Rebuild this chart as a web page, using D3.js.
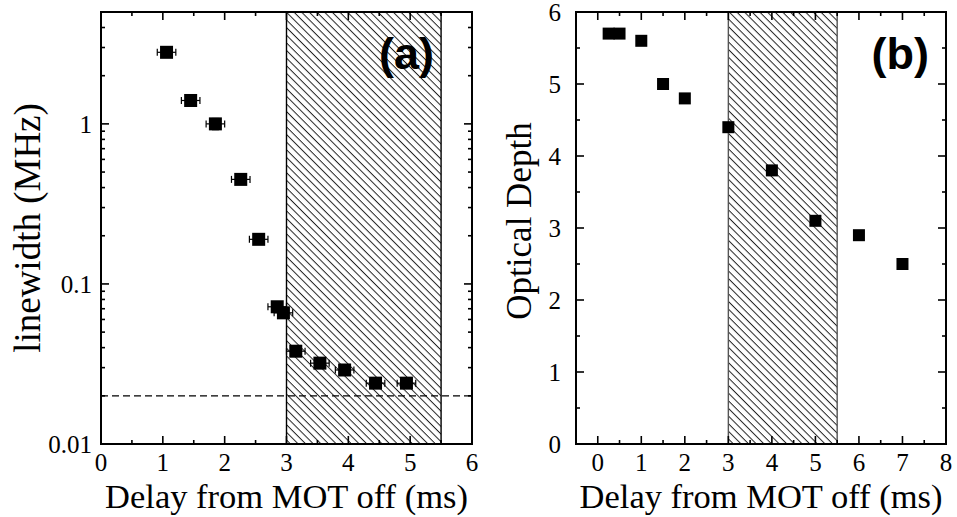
<!DOCTYPE html>
<html>
<head>
<meta charset="utf-8">
<script src="https://cdn.jsdelivr.net/npm/d3@7/dist/d3.min.js"></script>
<style>
  html, body { margin: 0; padding: 0; background: #fff; }
  svg { display: block; }
  .serif { font-family: "Liberation Serif", "Times New Roman", serif; fill: #000; }
  .tag { font-family: "Liberation Sans", Arial, sans-serif; font-weight: bold; fill: #000; }
</style>
</head>
<body>
<svg id="chart" width="957" height="517"></svg>
<script>
// ---------- DATA ----------
// Panel (a): linewidth vs delay
const delayA = [1.06, 1.45, 1.85, 2.26, 2.55, 2.85, 2.95, 3.15, 3.54, 3.94, 4.44, 4.94];
const linewidthA = [2.8, 1.40, 1.0, 0.45, 0.19, 0.072, 0.066, 0.038, 0.032, 0.029, 0.024, 0.024];
const xErrA = [0.15, 0.15, 0.15, 0.15, 0.15, 0.15, 0.15, 0.15, 0.15, 0.15, 0.15, 0.15];
const yErrA = [0, 0, 0.08, 0, 0, 0, 0, 0, 0, 0, 0, 0];
const dashedLevelA = 0.02;
const xTicksA = [0, 1, 2, 3, 4, 5, 6];
const yTicksA = [0.01, 0.1, 1];
const yTickLabelsA = ["0.01", "0.1", "1"];

// Panel (b): optical depth vs delay
const delayB = [0.25, 0.5, 1, 1.5, 2, 3, 4, 5, 6, 7];
const depthB = [5.7, 5.7, 5.6, 5.0, 4.8, 4.4, 3.8, 3.1, 2.9, 2.5];
const xTicksB = [0, 1, 2, 3, 4, 5, 6, 7, 8];
const yTicksB = [0, 1, 2, 3, 4, 5, 6];

// Shaded window (both panels)
const hatchRange = [3, 5.5];

const xTitle = "Delay from MOT off (ms)";
const yTitleA = "linewidth (MHz)";
const yTitleB = "Optical Depth";

// ---------- LAYOUT ----------
const svg = d3.select("#chart");
const defs = svg.append("defs");
const pat = defs.append("pattern")
  .attr("id", "hatch")
  .attr("patternUnits", "userSpaceOnUse")
  .attr("width", 5.4).attr("height", 5.4)
  .attr("patternTransform", "rotate(45)");
pat.append("line")
  .attr("x1", -1).attr("x2", 7).attr("y1", 0.5).attr("y2", 0.5)
  .attr("stroke", "#222").attr("stroke-width", 1);

const A = { left: 101, right: 472, top: 12, bottom: 444 };
const B = { left: 576, right: 946, top: 12, bottom: 444 };

const xA = d3.scaleLinear().domain([0, 6]).range([A.left, A.right]);
const yA = d3.scaleLog().domain([0.01, 5]).range([A.bottom, A.top]);
const xB = d3.scaleLinear().domain([-0.5, 8]).range([B.left, B.right]);
const yB = d3.scaleLinear().domain([0, 6]).range([B.bottom, B.top]);

const MAJ = 8, MIN = 4;
const TICK_FS = 25, TICK_Y = 471, TITLE_FS = 34.5, TITLE_Y = 507.5;

function drawFrame(g, P) {
  g.append("rect")
    .attr("x", P.left).attr("y", P.top)
    .attr("width", P.right - P.left).attr("height", P.bottom - P.top)
    .attr("fill", "none").attr("stroke", "#000").attr("stroke-width", 2);
}

function xTicks(g, P, xs, majors, minors) {
  const t = g.append("g").attr("stroke", "#000").attr("stroke-width", 1.6);
  majors.forEach(v => {
    const x = xs(v);
    t.append("line").attr("x1", x).attr("x2", x).attr("y1", P.bottom).attr("y2", P.bottom - MAJ);
    t.append("line").attr("x1", x).attr("x2", x).attr("y1", P.top).attr("y2", P.top + MAJ);
  });
  minors.forEach(v => {
    const x = xs(v);
    t.append("line").attr("x1", x).attr("x2", x).attr("y1", P.bottom).attr("y2", P.bottom - MIN);
    t.append("line").attr("x1", x).attr("x2", x).attr("y1", P.top).attr("y2", P.top + MIN);
  });
}

function yTicks(g, P, ys, majors, minors) {
  const t = g.append("g").attr("stroke", "#000").attr("stroke-width", 1.6);
  majors.forEach(v => {
    const y = ys(v);
    t.append("line").attr("y1", y).attr("y2", y).attr("x1", P.left).attr("x2", P.left + MAJ);
    t.append("line").attr("y1", y).attr("y2", y).attr("x1", P.right).attr("x2", P.right - MAJ);
  });
  minors.forEach(v => {
    const y = ys(v);
    t.append("line").attr("y1", y).attr("y2", y).attr("x1", P.left).attr("x2", P.left + MIN);
    t.append("line").attr("y1", y).attr("y2", y).attr("x1", P.right).attr("x2", P.right - MIN);
  });
}

// ---------- PANEL A ----------
const gA = svg.append("g");
gA.append("rect")
  .attr("x", xA(hatchRange[0])).attr("y", A.top)
  .attr("width", xA(hatchRange[1]) - xA(hatchRange[0])).attr("height", A.bottom - A.top)
  .attr("fill", "url(#hatch)").attr("stroke", "#000").attr("stroke-width", 1.4);
gA.append("line")
  .attr("x1", xA(0)).attr("x2", xA(6))
  .attr("y1", yA(dashedLevelA)).attr("y2", yA(dashedLevelA))
  .attr("stroke", "#000").attr("stroke-width", 1.2).attr("stroke-dasharray", "7,4");

drawFrame(gA, A);
xTicks(gA, A, xA, xTicksA, d3.range(0.5, 6, 1));
const minorLogA = [];
[0.01, 0.1, 1].forEach(d => { for (let k = 2; k <= 9; k++) { const v = d * k; if (v <= 5) minorLogA.push(v); } });
yTicks(gA, A, yA, yTicksA, minorLogA);

const errA = gA.append("g").attr("stroke", "#000").attr("stroke-width", 1.2);
delayA.forEach((d, i) => {
  const y = yA(linewidthA[i]);
  const x0 = xA(d - xErrA[i]), x1 = xA(d + xErrA[i]);
  errA.append("line").attr("x1", x0).attr("x2", x1).attr("y1", y).attr("y2", y);
  errA.append("line").attr("x1", x0).attr("x2", x0).attr("y1", y - 3.5).attr("y2", y + 3.5);
  errA.append("line").attr("x1", x1).attr("x2", x1).attr("y1", y - 3.5).attr("y2", y + 3.5);
  if (yErrA[i] > 0) {
    const ya = yA(linewidthA[i] - yErrA[i]), yb = yA(linewidthA[i] + yErrA[i]);
    const x = xA(d);
    errA.append("line").attr("x1", x).attr("x2", x).attr("y1", ya).attr("y2", yb);
    errA.append("line").attr("x1", x - 3.5).attr("x2", x + 3.5).attr("y1", ya).attr("y2", ya);
    errA.append("line").attr("x1", x - 3.5).attr("x2", x + 3.5).attr("y1", yb).attr("y2", yb);
  }
});
const SA = 13;
gA.append("g").selectAll("rect").data(delayA).join("rect")
  .attr("x", (d) => xA(d) - SA / 2)
  .attr("y", (d, i) => yA(linewidthA[i]) - SA / 2)
  .attr("width", SA).attr("height", SA).attr("fill", "#000");

gA.append("g").selectAll("text").data(xTicksA).join("text")
  .attr("class", "serif").attr("font-size", TICK_FS).attr("text-anchor", "middle")
  .attr("x", d => xA(d)).attr("y", TICK_Y).text(d => d);
gA.append("g").selectAll("text").data(yTicksA).join("text")
  .attr("class", "serif").attr("font-size", TICK_FS).attr("text-anchor", "end")
  .attr("x", 92).attr("y", d => yA(d)).attr("dy", "0.35em").text((d, i) => yTickLabelsA[i]);

gA.append("text").attr("class", "serif").attr("font-size", TITLE_FS).attr("text-anchor", "middle")
  .attr("x", (A.left + A.right) / 2).attr("y", TITLE_Y).text(xTitle);
gA.append("text").attr("class", "serif").attr("font-size", 37).attr("text-anchor", "middle")
  .attr("transform", `translate(40,${(A.top + A.bottom) / 2}) rotate(-90)`).text(yTitleA);
gA.append("text").attr("class", "tag").attr("font-size", 45).attr("text-anchor", "end")
  .attr("x", 434).attr("y", 69).text("(a)");

// ---------- PANEL B ----------
const gB = svg.append("g");
gB.append("rect")
  .attr("x", xB(hatchRange[0])).attr("y", B.top)
  .attr("width", xB(hatchRange[1]) - xB(hatchRange[0])).attr("height", B.bottom - B.top)
  .attr("fill", "url(#hatch)").attr("stroke", "#555").attr("stroke-width", 1.4);

drawFrame(gB, B);
xTicks(gB, B, xB, xTicksB, d3.range(0.5, 8, 1));
yTicks(gB, B, yB, yTicksB, d3.range(0.5, 6, 1));

const SB = 12;
gB.append("g").selectAll("rect").data(delayB).join("rect")
  .attr("x", d => xB(d) - SB / 2)
  .attr("y", (d, i) => yB(depthB[i]) - SB / 2)
  .attr("width", SB).attr("height", SB).attr("fill", "#000");

gB.append("g").selectAll("text").data(xTicksB).join("text")
  .attr("class", "serif").attr("font-size", TICK_FS).attr("text-anchor", "middle")
  .attr("x", d => xB(d)).attr("y", TICK_Y).text(d => d);
gB.append("g").selectAll("text").data(yTicksB).join("text")
  .attr("class", "serif").attr("font-size", TICK_FS).attr("text-anchor", "end")
  .attr("x", 561).attr("y", d => yB(d)).attr("dy", "0.35em").text(d => d);

gB.append("text").attr("class", "serif").attr("font-size", TITLE_FS).attr("text-anchor", "middle")
  .attr("x", (B.left + B.right) / 2).attr("y", TITLE_Y).text(xTitle);
gB.append("text").attr("class", "serif").attr("font-size", 35).attr("text-anchor", "middle")
  .attr("transform", `translate(531,${(B.top + B.bottom) / 2 - 7}) rotate(-90)`).text(yTitleB);
gB.append("text").attr("class", "tag").attr("font-size", 45).attr("text-anchor", "end")
  .attr("x", 929).attr("y", 69).text("(b)");
</script>
</body>
</html>
